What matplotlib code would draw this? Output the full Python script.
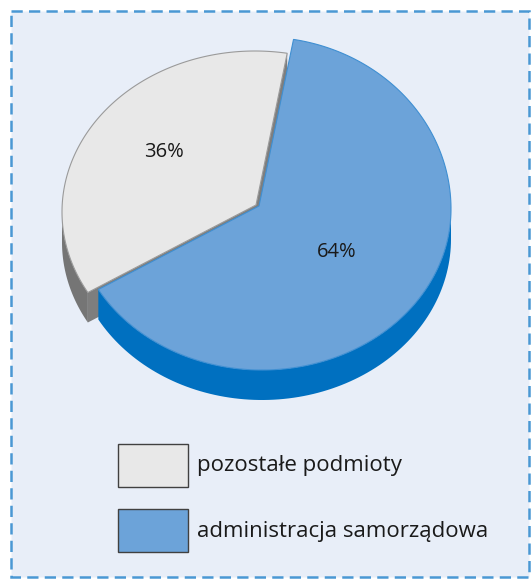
import numpy as np
import matplotlib
matplotlib.use('Agg')
import matplotlib.pyplot as plt
from matplotlib.patches import Polygon, Rectangle

labels = ['pozostałe podmioty', 'administracja samorządowa']
values = [36, 64]
pct_labels = ['36%', '64%']
top_colors = ['#E8E8E8', '#6CA3D9']
side_colors = ['#757575', '#0070C0']
edge_colors = ['#9A9A9A', '#3F8FD2']

plt.rcParams['font.family'] = ['Open Sans', 'DejaVu Sans']

# pie geometry in pixels (slight perspective: vertex sits above ellipse centre)
cx, cy = 255, 212
rx = [193, 189]
ry_back = [161, 172]   # far half, per slice (blue is pulled out a little)
ry_front = 161
vertex = [(256, 205), (259, 206)]
depth = 30
start = 80.4
offsets = [(0, 0), (7, -3)]
label_frac = [0.58, 0.5]

fig = plt.figure(figsize=(5.31, 5.79), dpi=100)
fig.patch.set_facecolor('white')
ax = fig.add_axes([0, 0, 1, 1])
ax.set_xlim(0, 531)
ax.set_ylim(579, 0)
ax.axis('off')

ax.add_patch(Rectangle((11, 11), 518, 566, facecolor='#E8EEF8', edgecolor='#4A98D4',
                       linewidth=1.8, linestyle=(0, (4.5, 2.5))))


def rim(t, i, dz=0):
    ox, oy = offsets[i]
    t = np.radians(t)
    s = np.sin(t)
    r = np.where(s > 0, ry_back[i], ry_front)
    return cx + ox + rx[i] * np.cos(t), cy + oy - r * s + dz


angles = np.cumsum([0] + [v / sum(values) * 360 for v in values])
spans = [(start, start + angles[1]), (start + angles[1], start + 360)]

for i, (a0, a1) in enumerate(spans):
    px, py = vertex[i]
    # outer side, front half only
    lo, hi = max(a0, 180), min(a1, 360)
    if hi > lo:
        t = np.linspace(lo, hi, 100)
        xs, ys = rim(t, i)
        xb, yb = rim(t[::-1], i, depth)
        pts = np.column_stack([np.r_[xs, xb], np.r_[ys, yb]])
        ax.add_patch(Polygon(pts, closed=True, facecolor=side_colors[i], edgecolor='none'))
    if i == 0:
        # cut faces of the grey slice
        for a in (a0, a1):
            ex, ey = rim(np.array([a]), i)
            pts = [(px, py), (ex[0], ey[0]), (ex[0], ey[0] + depth), (px, py + depth)]
            ax.add_patch(Polygon(pts, closed=True, facecolor='#7E7E7E', edgecolor='none'))
    t = np.linspace(a0, a1, 200)
    xs, ys = rim(t, i)
    pts = np.column_stack([np.r_[px, xs], np.r_[py, ys]])
    ax.add_patch(Polygon(pts, closed=True, facecolor=top_colors[i],
                         edgecolor=edge_colors[i], linewidth=0.8))
    mid = np.radians((a0 + a1) / 2)
    f = label_frac[i]
    ax.text(px + f * rx[i] * np.cos(mid), py - f * ry_front * np.sin(mid), pct_labels[i],
            fontsize=14.5, ha='center', va='center', color='#1A1A1A')

# legend
for i, lab in enumerate(labels):
    y0 = 444 + i * 65
    ax.add_patch(Rectangle((118, y0), 70, 43, facecolor=top_colors[i],
                           edgecolor='#404040', linewidth=1))
    ax.text(197, y0 + 22, lab, fontsize=16, ha='left', va='center', color='#1A1A1A')

plt.savefig('out.png', dpi=100)
